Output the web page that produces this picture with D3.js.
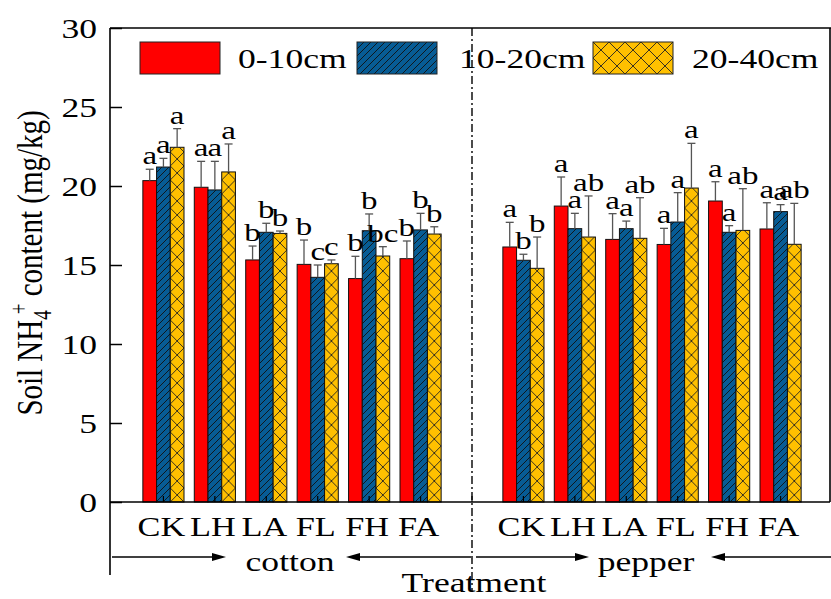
<!DOCTYPE html>
<html>
<head>
<meta charset="utf-8">
<script src="https://cdn.jsdelivr.net/npm/d3@7"></script>
<style>
    body { margin: 0; background: #fff; }
    text { font-family: "Liberation Serif", "Times New Roman", serif; fill: #000; }
</style>
</head>
<body>
<div id="chart"></div>
<script>
// Soil NH4+ content by treatment, crop and depth
var treatments = ["CK", "LH", "LA", "FL", "FH", "FA"];
var crops = ["cotton", "pepper"];
var depths = ["0-10cm", "10-20cm", "20-40cm"];
var yTicks = [0, 5, 10, 15, 20, 25, 30];

var cotton0_10 = [20.34, 19.92, 15.32, 15.04, 14.14, 15.40];
var cotton10_20 = [21.20, 19.75, 17.07, 14.22, 17.17, 17.22];
var cotton20_40 = [22.45, 20.89, 17.00, 15.08, 15.57, 16.96];
var cottonErr0_10 = [0.72, 1.64, 0.88, 1.54, 1.41, 1.12];
var cottonErr10_20 = [0.55, 1.81, 0.57, 0.78, 1.06, 1.05];
var cottonErr20_40 = [1.18, 1.77, 0.15, 0.24, 0.59, 0.46];
var cottonLetters0_10 = ["a", "a", "b", "b", "b", "b"];
var cottonLetters10_20 = ["a", "a", "b", "c", "b", "b"];
var cottonLetters20_40 = ["a", "a", "b", "c", "bc", "b"];

var pepper0_10 = [16.14, 18.73, 16.62, 16.30, 19.05, 17.28];
var pepper10_20 = [15.30, 17.30, 17.30, 17.72, 17.07, 18.38];
var pepper20_40 = [14.79, 16.77, 16.69, 19.87, 17.19, 16.31];
var pepperErr0_10 = [1.56, 1.84, 1.63, 1.02, 1.22, 1.66];
var pepperErr10_20 = [0.38, 0.97, 0.48, 1.86, 0.42, 0.44];
var pepperErr20_40 = [1.98, 2.60, 2.57, 2.83, 2.64, 2.59];
var pepperLetters0_10 = ["a", "a", "a", "a", "a", "a"];
var pepperLetters10_20 = ["b", "a", "a", "a", "a", "a"];
var pepperLetters20_40 = ["b", "ab", "ab", "a", "ab", "ab"];

var colors = { "0-10cm": "#ff0000", "10-20cm": "#075c95", "20-40cm": "#ffc000" };
var stretch = 1.27; // the original figure is a bit wide, text included

var chartWidth = 831, chartHeight = 599;
var plotLeft = 110, plotRight = 830, plotTop = 28, plotBottom = 502;

var svg = d3.select("#chart").append("svg")
    .attr("width", chartWidth)
    .attr("height", chartHeight);
var defs = svg.append("defs");

// one slot per treatment, plus an empty slot between the two crops
var slots = treatments.map(function (t) { return "cotton-" + t; })
    .concat(["gap"])
    .concat(treatments.map(function (t) { return "pepper-" + t; }));

var x = d3.scaleBand().domain(slots).range([112, 832]).paddingInner(0.2).paddingOuter(0.6);
var xDepth = d3.scaleBand().domain(depths).range([0, x.bandwidth()]);
var y = d3.scaleLinear().domain([0, 30]).range([plotBottom, plotTop]);

// flatten the arrays into bar records
var means = {
    cotton: [cotton0_10, cotton10_20, cotton20_40],
    pepper: [pepper0_10, pepper10_20, pepper20_40]
};
var errs = {
    cotton: [cottonErr0_10, cottonErr10_20, cottonErr20_40],
    pepper: [pepperErr0_10, pepperErr10_20, pepperErr20_40]
};
var letters = {
    cotton: [cottonLetters0_10, cottonLetters10_20, cottonLetters20_40],
    pepper: [pepperLetters0_10, pepperLetters10_20, pepperLetters20_40]
};
var bars = [];
crops.forEach(function (crop) {
    treatments.forEach(function (t, i) {
        depths.forEach(function (d, j) {
            bars.push({
                id: crop + "-" + t + "-" + j,
                slot: crop + "-" + t,
                depth: d,
                value: means[crop][j][i],
                err: errs[crop][j][i],
                letter: letters[crop][j][i]
            });
        });
    });
});

function barX(d) { return x(d.slot) + xDepth(d.depth); }

// Hatch patterns
var hatch = defs.append("pattern")
    .attr("id", "hatch")
    .attr("patternUnits", "userSpaceOnUse")
    .attr("width", 7)
    .attr("height", 7);
hatch.append("rect").attr("width", 7).attr("height", 7).attr("fill", colors["10-20cm"]);
hatch.append("path")
    .attr("d", "M-1,1 L1,-1 M0,7 L7,0 M6,8 L8,6")
    .attr("stroke", "#111")
    .attr("stroke-width", 0.9);

function addCross(id, px, py, w, h) {
    var p = defs.append("pattern")
        .attr("id", id)
        .attr("patternUnits", "userSpaceOnUse")
        .attr("x", px).attr("y", py)
        .attr("width", w).attr("height", h);
    p.append("rect").attr("width", w).attr("height", h).attr("fill", colors["20-40cm"]);
    p.append("path")
        .attr("d", "M0,0 L" + w + "," + h + " M" + w + ",0 L0," + h)
        .attr("stroke", "#222")
        .attr("stroke-width", 0.9);
}

bars.forEach(function (d) {
    if (d.depth === "20-40cm") addCross("cross-" + d.id, barX(d), y(0), xDepth.bandwidth(), 14);
});

function fillFor(d) {
    if (d.depth === "0-10cm") return colors["0-10cm"];
    if (d.depth === "10-20cm") return "url(#hatch)";
    return "url(#cross-" + d.id + ")";
}

function stretchedText(sel, tx, ty, size, anchor, str) {
    return sel.append("text")
        .attr("transform", "translate(" + tx + "," + ty + ") scale(" + stretch + ",1)")
        .attr("font-size", size)
        .attr("text-anchor", anchor)
        .text(str);
}

// Bars
svg.append("g").selectAll("rect")
    .data(bars)
    .enter().append("rect")
    .attr("x", barX)
    .attr("y", function (d) { return y(d.value); })
    .attr("width", xDepth.bandwidth())
    .attr("height", function (d) { return y(0) - y(d.value); })
    .attr("fill", fillFor)
    .attr("stroke", "#111")
    .attr("stroke-width", 1);

// Error bars (upper half only)
var gErr = svg.append("g").attr("stroke", "#555").attr("stroke-width", 1.3);
gErr.selectAll("line.stem")
    .data(bars)
    .enter().append("line")
    .attr("class", "stem")
    .attr("x1", function (d) { return barX(d) + xDepth.bandwidth() / 2; })
    .attr("x2", function (d) { return barX(d) + xDepth.bandwidth() / 2; })
    .attr("y1", function (d) { return y(d.value); })
    .attr("y2", function (d) { return y(d.value + d.err); });
gErr.selectAll("line.cap")
    .data(bars)
    .enter().append("line")
    .attr("class", "cap")
    .attr("x1", function (d) { return barX(d) + xDepth.bandwidth() / 2 - 4; })
    .attr("x2", function (d) { return barX(d) + xDepth.bandwidth() / 2 + 4; })
    .attr("y1", function (d) { return y(d.value + d.err); })
    .attr("y2", function (d) { return y(d.value + d.err); });

// Significance letters
var gLetters = svg.append("g");
bars.forEach(function (d) {
    stretchedText(gLetters, barX(d) + xDepth.bandwidth() / 2, y(d.value + d.err) - 5, 26, "middle", d.letter);
});

// Y axis, ticks pointing inward
var yAxis = svg.append("g")
    .attr("transform", "translate(" + plotLeft + ",0)")
    .call(d3.axisLeft(y).tickValues(yTicks).tickSize(-12).tickPadding(13));
yAxis.select(".domain").remove();
yAxis.selectAll("line").attr("stroke", "#000").attr("stroke-width", 1.5);
yAxis.selectAll("text")
    .attr("x", null)
    .attr("dy", "0.33em")
    .attr("transform", "translate(-13,0) scale(" + stretch + ",1)")
    .attr("font-size", 28)
    .attr("font-family", "Liberation Serif");

// X axis, small ticks pointing up
var xAxis = svg.append("g")
    .attr("transform", "translate(0," + plotBottom + ")")
    .call(d3.axisBottom(x).tickSize(-6).tickFormat(function (s) { return s === "gap" ? "" : s.split("-")[1]; }));
xAxis.select(".domain").remove();
xAxis.selectAll("line").attr("stroke", "#000").attr("stroke-width", 1.2);
xAxis.selectAll("text")
    .attr("y", null)
    .attr("dy", null)
    .attr("transform", "translate(-2,34) scale(" + stretch + ",1)")
    .attr("font-size", 27)
    .attr("font-family", "Liberation Serif");

// Frame
var gFrame = svg.append("g").attr("stroke", "#000").attr("fill", "none");
gFrame.append("line").attr("x1", plotLeft).attr("x2", chartWidth).attr("y1", plotTop).attr("y2", plotTop).attr("stroke-width", 1.6);
gFrame.append("line").attr("x1", plotLeft).attr("x2", plotRight).attr("y1", plotBottom).attr("y2", plotBottom).attr("stroke-width", 1.6);
gFrame.append("line").attr("x1", plotLeft).attr("x2", plotLeft).attr("y1", plotTop).attr("y2", 575).attr("stroke-width", 1.6);
gFrame.append("line").attr("x1", plotRight).attr("x2", plotRight).attr("y1", plotTop).attr("y2", plotBottom).attr("stroke-width", 1.6);

// Dash-dot divider between crops
var divX = x("gap") + x.bandwidth() / 2;
svg.append("line")
    .attr("x1", divX).attr("x2", divX)
    .attr("y1", plotTop).attr("y2", 592)
    .attr("stroke", "#000")
    .attr("stroke-width", 1.4)
    .attr("stroke-dasharray", "8,3,2,3");

// Crop arrows
function drawArrow(x1, x2, yy) {
    var dir = x2 > x1 ? 1 : -1;
    svg.append("line")
        .attr("x1", x1).attr("x2", x2 - dir * 10)
        .attr("y1", yy).attr("y2", yy)
        .attr("stroke", "#000").attr("stroke-width", 1.5);
    svg.append("path")
        .attr("d", "M" + x2 + "," + yy + " L" + (x2 - dir * 14) + "," + (yy - 4) + " L" + (x2 - dir * 14) + "," + (yy + 4) + " Z")
        .attr("fill", "#000");
}
var cottonMid = (x("cotton-CK") + x("cotton-FA") + x.bandwidth()) / 2;
var pepperMid = (x("pepper-CK") + x("pepper-FA") + x.bandwidth()) / 2;
drawArrow(112, 226, 557);
drawArrow(divX - 1, 346, 557);
drawArrow(divX + 4, 589, 557);
drawArrow(chartWidth, 711, 557);
stretchedText(svg, cottonMid - 2, 571, 28, "middle", "cotton");
stretchedText(svg, pepperMid - 6, 571, 28, "middle", "pepper");
stretchedText(svg, divX + 2, 592, 28, "middle", "Treatment");

// Y title with NH4+ sub/superscript
var yTitle = svg.append("text")
    .attr("transform", "translate(42,263) scale(" + stretch + ",1) rotate(-90)")
    .attr("font-size", 29)
    .attr("text-anchor", "middle");
yTitle.append("tspan").text("Soil NH");
yTitle.append("tspan").attr("font-size", 19).attr("dy", 7).text("4");
yTitle.append("tspan").attr("font-size", 19).attr("dy", -19).attr("dx", -4).text("+");
yTitle.append("tspan").attr("dy", 12).text(" content (mg/kg)");

// Legend
var legendItems = [
    { depth: "0-10cm", rx: 140, tx: 238 },
    { depth: "10-20cm", rx: 357, tx: 459 },
    { depth: "20-40cm", rx: 593, tx: 692 }
];
addCross("cross-legend", 593, 42, 16, 16);
var gLegend = svg.append("g");
legendItems.forEach(function (item) {
    gLegend.append("rect")
        .attr("x", item.rx).attr("y", 42)
        .attr("width", 80).attr("height", 32)
        .attr("fill", item.depth === "0-10cm" ? colors["0-10cm"] : (item.depth === "10-20cm" ? "url(#hatch)" : "url(#cross-legend)"))
        .attr("stroke", "#222")
        .attr("stroke-width", 1);
    stretchedText(gLegend, item.tx, 68, 28, "start", item.depth);
});
</script>
</body>
</html>
